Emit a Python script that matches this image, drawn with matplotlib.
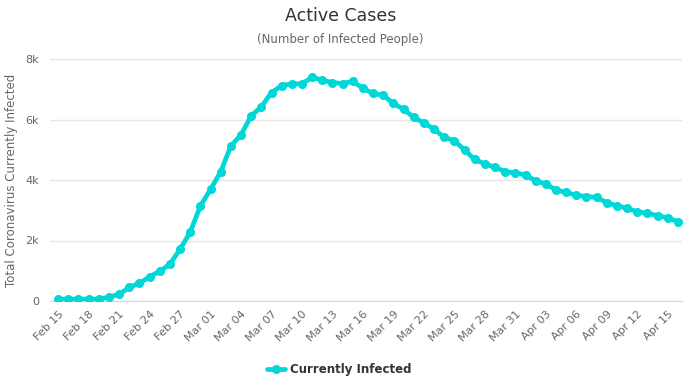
import datetime as dt
import numpy as np
import matplotlib
matplotlib.use('Agg')
import matplotlib.pyplot as plt

# daily values, Feb 15 - Apr 16 (2020)
start = dt.date(2020, 2, 15)
active = [55, 60, 60, 60, 60, 130, 220, 450, 585, 800,
          980, 1220, 1710, 2280, 3140, 3690, 4275, 5124, 5490, 6120,
          6420, 6890, 7120, 7180, 7180, 7400, 7300, 7220, 7190, 7260,
          7030, 6860, 6800, 6530, 6340, 6070, 5890, 5680, 5410, 5300,
          4990, 4680, 4530, 4420, 4275, 4240, 4165, 3970, 3870, 3670,
          3590, 3500, 3450, 3430, 3250, 3150, 3065, 2950, 2900, 2820,
          2750, 2620]
dates = [start + dt.timedelta(days=i) for i in range(len(active))]
labels = [d.strftime('%b %d') for d in dates]
y_ticks = [0, 2000, 4000, 6000, 8000]
y_labels = ['0', '2k', '4k', '6k', '8k']

color = '#00d8d8'

fig = plt.figure(figsize=(6.92, 3.85), dpi=100)
ax = fig.add_axes([50/692, 1-301/385, 632/692, 242/385])

x = np.arange(len(active))
ax.plot(x, active, color=color, lw=3.4, marker='o', ms=5.5,
        label='Currently Infected', zorder=3, solid_capstyle='round')

ax.set_xlim(-0.8, 61.4)
ax.set_ylim(0, 8000)
ax.set_yticks(y_ticks)
ax.set_yticklabels(y_labels)
ax.set_xticks(x[::3])
ax.set_xticklabels(labels[::3], rotation=45, ha='right', rotation_mode='anchor')
ax.tick_params(axis='both', length=0, labelsize=8, colors='#666666')
ax.tick_params(axis='x', pad=6)
ax.tick_params(axis='y', pad=8)

ax.grid(axis='y', color='#e6e6e6', lw=1)
ax.set_axisbelow(True)
for s in ['left', 'right', 'top']:
    ax.spines[s].set_visible(False)
ax.spines['bottom'].set_color('#ccd6eb')

ax.set_ylabel('Total Coronavirus Currently Infected', fontsize=8.5,
              color='#666666', labelpad=5)

fig.text(0.492, 0.958, 'Active Cases', ha='center', va='center',
         fontsize=12.5, color='#333333')
fig.text(0.492, 0.898, '(Number of Infected People)', ha='center', va='center',
         fontsize=8.5, color='#666666')

leg = fig.legend(loc='center', bbox_to_anchor=(0.49, 0.04), frameon=False,
                 prop={'weight': 'bold', 'size': 8.5}, handlelength=1.6,
                 handletextpad=0.4)
for t in leg.get_texts():
    t.set_color('#333333')

fig.savefig('out.png', dpi=100)
